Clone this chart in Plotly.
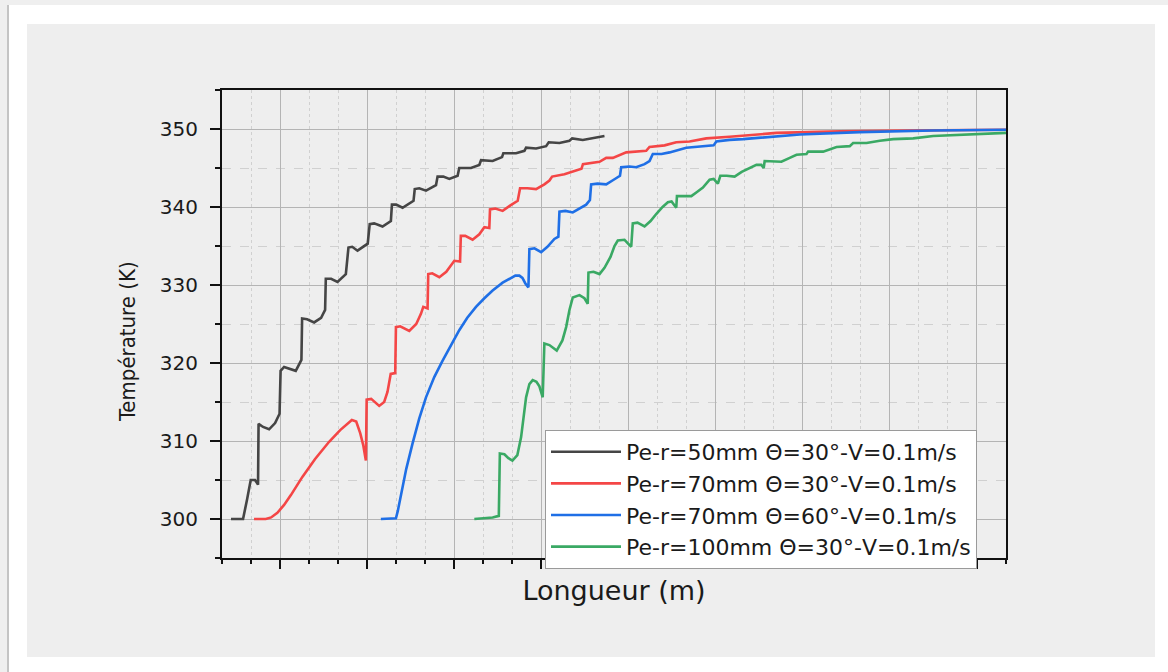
import plotly.graph_objects as go

# ---------------- data ----------------
x_black = [-0.563, -0.425, -0.379, -0.337, -0.287, -0.253, -0.247, -0.195, -0.126, -0.057, -0.006,
           0.006, 0.046, 0.115, 0.180, 0.245, 0.253, 0.310, 0.391, 0.471, 0.517, 0.525, 0.586, 0.659,
           0.755, 0.785, 0.828, 0.889, 1.006, 1.029, 1.080, 1.176, 1.272, 1.284, 1.333, 1.406, 1.532,
           1.546, 1.598, 1.675, 1.790, 1.808, 1.874, 1.943, 2.038, 2.057, 2.192, 2.287, 2.307, 2.440,
           2.548, 2.563, 2.709, 2.805, 2.824, 2.939, 3.054, 3.084, 3.207, 3.322, 3.353, 3.475, 3.590, 3.724]
t_black = [300.0, 300.0, 302.5, 305.0, 305.0, 304.4, 312.2, 311.8, 311.5, 312.3, 313.5,
           319.0, 319.5, 319.2, 319.0, 320.4, 325.7, 325.6, 325.2, 325.8, 326.8, 330.8, 330.8, 330.4,
           331.4, 334.8, 334.9, 334.4, 335.3, 337.8, 337.9, 337.5, 338.2, 340.3, 340.3, 339.9, 340.8,
           342.3, 342.4, 342.1, 342.8, 343.9, 343.9, 343.6, 344.0, 345.0, 345.0, 345.4, 346.0, 345.9,
           346.4, 346.9, 346.9, 347.2, 347.6, 347.5, 347.8, 348.3, 348.2, 348.5, 348.8, 348.6, 348.8, 349.1]

x_red = [-0.299, -0.164, -0.103, -0.031, 0.046, 0.126, 0.256, 0.402, 0.563, 0.690, 0.824, 0.874,
         0.920, 0.954, 0.985, 0.994, 1.046, 1.138, 1.195, 1.233, 1.270, 1.322, 1.330, 1.379, 1.483,
         1.563, 1.617, 1.644, 1.693, 1.701, 1.747, 1.828, 1.908, 1.962, 2.000, 2.066, 2.075, 2.126,
         2.210, 2.287, 2.345, 2.402, 2.410, 2.471, 2.555, 2.644, 2.728, 2.755, 2.839, 2.939, 3.034,
         3.092, 3.123, 3.264, 3.379, 3.460, 3.477, 3.667, 3.744, 3.820, 3.974, 4.203, 4.241, 4.414,
         4.548, 4.701, 4.893, 5.161, 5.698, 6.425, 7.192, 8.333]
t_red = [300.0, 300.0, 300.2, 300.8, 301.8, 303.1, 305.4, 307.7, 309.9, 311.4, 312.7, 312.5,
         311.0, 309.5, 307.5, 315.3, 315.4, 314.5, 315.0, 316.3, 318.6, 318.7, 324.6, 324.7, 324.1,
         325.0, 326.3, 327.2, 327.0, 331.4, 331.5, 331.0, 331.7, 332.6, 333.1, 333.0, 336.3, 336.3,
         335.8, 336.5, 337.4, 337.3, 339.7, 339.8, 339.5, 340.2, 340.8, 342.4, 342.4, 342.3, 342.9,
         343.4, 343.9, 344.2, 344.6, 344.9, 345.5, 345.8, 346.3, 346.3, 347.0, 347.2, 347.7, 347.9,
         348.3, 348.4, 348.8, 349.0, 349.5, 349.7, 349.8, 349.9]

x_blue = [1.157, 1.330, 1.351, 1.387, 1.448, 1.521, 1.598, 1.675, 1.770, 1.866, 1.962, 2.057,
          2.149, 2.249, 2.345, 2.440, 2.555, 2.632, 2.701, 2.747, 2.782, 2.816, 2.851, 2.862, 2.920,
          2.997, 3.069, 3.149, 3.195, 3.207, 3.276, 3.360, 3.437, 3.514, 3.557, 3.571, 3.644, 3.744,
          3.816, 3.877, 3.902, 3.916, 4.011, 4.088, 4.184, 4.241, 4.279, 4.379, 4.471, 4.663, 4.854,
          4.977, 5.008, 5.161, 5.314, 5.698, 5.966, 6.655, 7.498, 8.333]
t_blue = [300.0, 300.1, 301.0, 302.9, 306.4, 309.7, 312.9, 315.6, 318.2, 320.3, 322.3, 324.2,
          325.8, 327.2, 328.3, 329.3, 330.3, 330.8, 331.2, 331.2, 330.9, 330.2, 329.7, 334.6, 334.7,
          334.2, 334.9, 335.9, 336.2, 339.4, 339.5, 339.3, 339.8, 340.3, 340.9, 342.9, 343.0, 342.9,
          343.4, 343.8, 344.0, 345.1, 345.2, 345.1, 345.5, 345.9, 346.8, 346.8, 347.0, 347.6, 347.8,
          347.9, 348.4, 348.6, 348.7, 349.0, 349.3, 349.6, 349.8, 349.9]

x_green = [2.230, 2.440, 2.511, 2.523, 2.575, 2.621, 2.667, 2.724, 2.767, 2.793, 2.824, 2.862,
           2.900, 2.943, 2.977, 3.015, 3.034, 3.092, 3.176, 3.241, 3.284, 3.322, 3.360, 3.437, 3.494,
           3.532, 3.540, 3.598, 3.667, 3.724, 3.793, 3.839, 3.877, 3.954, 4.031, 4.049, 4.103, 4.184,
           4.253, 4.318, 4.391, 4.452, 4.494, 4.548, 4.556, 4.632, 4.721, 4.782, 4.854, 4.931, 4.977,
           5.026, 5.054, 5.126, 5.218, 5.299, 5.391, 5.468, 5.525, 5.552, 5.563, 5.755, 5.851, 5.928,
           6.043, 6.062, 6.234, 6.388, 6.540, 6.578, 6.732, 6.885, 7.038, 7.268, 7.498, 7.728, 8.072, 8.333]
t_green = [300.0, 300.2, 300.4, 308.4, 308.3, 307.8, 307.5, 308.2, 310.5, 313.0, 315.6, 317.3,
           317.8, 317.6, 317.0, 315.6, 322.5, 322.3, 321.6, 322.9, 324.6, 326.8, 328.4, 328.7, 328.3,
           327.6, 331.6, 331.7, 331.4, 332.2, 333.6, 335.0, 335.7, 335.8, 334.9, 337.9, 338.0, 337.5,
           338.2, 339.1, 340.0, 340.6, 340.7, 339.9, 341.4, 341.4, 341.4, 341.9, 342.5, 343.5, 343.6,
           343.0, 344.0, 344.0, 343.9, 344.5, 345.0, 345.4, 345.4, 345.0, 345.9, 345.8, 346.3, 346.7,
           346.8, 347.1, 347.1, 347.7, 347.8, 348.2, 348.2, 348.5, 348.7, 348.8, 349.1, 349.2, 349.4, 349.5]

names = ["Pe-r=50mm \u0398=30\u00b0-V=0.1m/s",
         "Pe-r=70mm \u0398=30\u00b0-V=0.1m/s",
         "Pe-r=70mm \u0398=60\u00b0-V=0.1m/s",
         "Pe-r=100mm \u0398=30\u00b0-V=0.1m/s"]
colors = ["#454545", "#f44646", "#1f6fe6", "#3aa964"]
series = [(x_black, t_black), (x_red, t_red), (x_blue, t_blue), (x_green, t_green)]

# ---------------- figure ----------------
W, H = 1168, 672
L, R, T, B = 222, 1006, 90, 558

fig = go.Figure()
for (xs, ts), nm, c in zip(series, names, colors):
    fig.add_trace(go.Scatter(x=xs, y=ts, mode="lines", name=nm,
                             line=dict(color=c, width=2.6)))

def px_x(p):
    return (p - L) / (R - L)

def px_y(p):
    return (B - p) / (B - T)

shapes = [
    dict(type="rect", xref="paper", yref="paper", x0=px_x(0), x1=px_x(W), y0=px_y(0), y1=px_y(5),
         fillcolor="#efefef", line_width=0, layer="below"),
    dict(type="rect", xref="paper", yref="paper", x0=px_x(0), x1=px_x(7), y0=px_y(0), y1=px_y(H),
         fillcolor="#efefef", line_width=0, layer="below"),
    dict(type="rect", xref="paper", yref="paper", x0=px_x(7), x1=px_x(9), y0=px_y(5), y1=px_y(H),
         fillcolor="#c4c4c4", line_width=0, layer="below"),
    dict(type="rect", xref="paper", yref="paper", x0=px_x(27), x1=px_x(1155), y0=px_y(24), y1=px_y(657),
         fillcolor="#eeeeee", line_width=0, layer="below"),
]

annotations = [
    dict(text="Température (K)", xref="paper", yref="paper", x=px_x(127), y=px_y(342),
         xanchor="center", yanchor="middle", textangle=-90, showarrow=False,
         font=dict(family="Liberation Sans Narrow, DejaVu Sans Condensed, Arial Narrow", size=22,
                   color="#1a1a1a")),
]

fig.update_layout(
    width=W, height=H,
    margin=dict(l=L, r=W - R, t=T, b=H - B),
    paper_bgcolor="#ffffff",
    plot_bgcolor="#eeeeee",
    shapes=shapes,
    annotations=annotations,
    showlegend=True,
    legend=dict(x=px_x(545), y=px_y(430), xanchor="left", yanchor="top",
                bgcolor="#ffffff", bordercolor="#9a9a9a", borderwidth=1,
                font=dict(family="DejaVu Sans", size=22, color="#1a1a1a"),
                itemwidth=70, tracegroupgap=0),
    xaxis=dict(
        range=[-2 / 3, 25 / 3], dtick=1, tick0=0,
        showticklabels=False,
        ticks="outside", ticklen=9, tickwidth=2, tickcolor="#111",
        showline=True, linewidth=2, linecolor="#111", mirror=True,
        showgrid=True, gridcolor="#b4b4b4", gridwidth=1,
        zeroline=False,
        minor=dict(dtick=1 / 3, tick0=0, ticks="outside", ticklen=4, tickwidth=1.5, tickcolor="#111",
                   showgrid=True, gridcolor="#d0d0d0", griddash="dot", gridwidth=1),
        title=dict(text="Longueur (m)", standoff=13,
                   font=dict(family="DejaVu Sans", size=27, color="#1a1a1a")),
    ),
    yaxis=dict(
        range=[295, 355], dtick=10, tick0=300,
        ticks="outside", ticklen=10, tickwidth=2, tickcolor="#111",
        ticklabelstandoff=8,
        tickfont=dict(family="DejaVu Sans", size=20, color="#1a1a1a"),
        showline=True, linewidth=2, linecolor="#111", mirror=True,
        showgrid=True, gridcolor="#b4b4b4", gridwidth=1,
        zeroline=False,
        minor=dict(dtick=5, tick0=300, ticks="outside", ticklen=5, tickwidth=1.5, tickcolor="#111",
                   showgrid=True, gridcolor="#d0d0d0", griddash="dash", gridwidth=1),
    ),
)

fig.write_html("out.html", config={"displayModeBar": False},
               post_script="document.body.style.margin='0';document.body.style.padding='0';"
                           "document.body.style.overflow='hidden';")
